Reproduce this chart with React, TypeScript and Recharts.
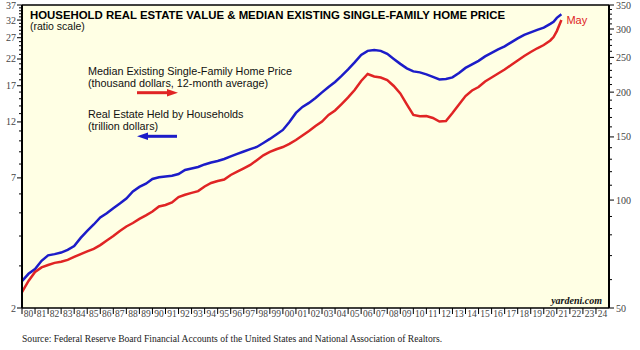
import React from 'react';
import { LineChart, Line, XAxis, YAxis, CartesianGrid, ReferenceLine, LabelList } from 'recharts';

// half-year readings (last point = Q1/May 2021)
const YEARS = [
  1980, 1980.5, 1981, 1981.5, 1982, 1982.5, 1983, 1983.5, 1984, 1984.5,
  1985, 1985.5, 1986, 1986.5, 1987, 1987.5, 1988, 1988.5, 1989, 1989.5,
  1990, 1990.5, 1991, 1991.5, 1992, 1992.5, 1993, 1993.5, 1994, 1994.5,
  1995, 1995.5, 1996, 1996.5, 1997, 1997.5, 1998, 1998.5, 1999, 1999.5,
  2000, 2000.5, 2001, 2001.5, 2002, 2002.5, 2003, 2003.5, 2004, 2004.5,
  2005, 2005.5, 2006, 2006.5, 2007, 2007.5, 2008, 2008.5, 2009, 2009.5,
  2010, 2010.5, 2011, 2011.5, 2012, 2012.5, 2013, 2013.5, 2014, 2014.5,
  2015, 2015.5, 2016, 2016.5, 2017, 2017.5, 2018, 2018.5, 2019, 2019.5,
  2020, 2020.5, 2020.75, 2021, 2021.35,
];

// Real Estate Held by Households (trillion dollars, left axis)
const HOUSEHOLD_RE = [
  2.59, 2.78, 2.91, 3.15, 3.32, 3.36, 3.41, 3.5, 3.63, 3.93,
  4.2, 4.47, 4.78, 4.98, 5.23, 5.47, 5.74, 6.14, 6.42, 6.62,
  6.93, 7.04, 7.1, 7.15, 7.27, 7.56, 7.67, 7.78, 7.97, 8.12,
  8.24, 8.4, 8.61, 8.82, 9.03, 9.23, 9.43, 9.8, 10.19, 10.64,
  11.11, 12.0, 13.09, 13.87, 14.41, 15.12, 15.95, 16.81, 17.64, 18.69,
  19.9, 21.29, 22.89, 23.79, 24.01, 23.79, 23.11, 22.02, 20.99, 20.1,
  19.52, 19.34, 18.97, 18.51, 18.07, 18.16, 18.43, 19.24, 20.19, 20.89,
  21.6, 22.56, 23.33, 24.13, 24.84, 25.82, 26.83, 27.75, 28.43, 29.12,
  29.77, 30.85, 31.5, 32.69, 33.81,
];

// Median Existing Single-Family Home Price (thousand dollars, right axis)
const HOME_PRICE = [
  55.4, 59.5, 63.0, 64.9, 65.9, 66.8, 67.3, 68.1, 69.4, 70.7,
  71.9, 73.1, 74.9, 77.1, 79.4, 82.0, 84.4, 86.3, 88.6, 90.6,
  92.9, 96.0, 96.9, 98.5, 102.0, 103.5, 104.7, 105.9, 109.1, 111.6,
  113.0, 114.1, 117.5, 120.0, 122.6, 125.3, 129.2, 133.3, 136.2, 138.6,
  140.6, 143.4, 147.1, 151.4, 155.8, 160.9, 165.6, 172.7, 177.8, 185.3,
  193.3, 202.8, 214.9, 224.7, 221.2, 219.7, 216.2, 208.1, 198.3, 184.8,
  172.7, 171.3, 171.6, 169.4, 165.6, 166.2, 174.9, 184.8, 195.1, 202.1,
  206.7, 214.2, 219.7, 225.4, 231.3, 238.1, 245.1, 252.2, 258.8, 265.1,
  270.7, 278.7, 285.0, 296.0, 318.0,
];

const LEFT_LABELS = [2, 7, 12, 17, 22, 27, 32, 37];
const RIGHT_LABELS = [50, 100, 150, 200, 250, 300, 350];
const LAST_LABEL = 'May';

const leftTicks: number[] = [];
for (let v = 2; v <= 37; v++) leftTicks.push(v);
const rightTicks: number[] = [];
for (let v = 50; v <= 350; v += 10) rightTicks.push(v);
const yearTicks: number[] = [];
for (let y = 1980; y <= 2024; y++) yearTicks.push(y);

const data = YEARS.map((year, i) => ({ year, household: HOUSEHOLD_RE[i], price: HOME_PRICE[i] }));

const W = 640;
const H = 350;
const LEFT_W = 22;
const RIGHT_W = 31;
const PLOT_W = W - LEFT_W - RIGHT_W;
const HALF_YEAR = PLOT_W / 45 / 2;

const BLUE = '#1c1cc8';
const RED = '#e02424';
const SERIF = '"Liberation Serif", "Times New Roman", serif';
const SANS = '"Liberation Sans", Arial, sans-serif';

const LeftTick = (props: any) => {
  const { x, y, payload } = props;
  const major = LEFT_LABELS.includes(payload.value);
  return (
    <g>
      <line x1={x - (major ? 5 : 3)} x2={x} y1={y} y2={y} stroke="#000" strokeWidth={1} />
      {major && (
        <text x={x - 6} y={y + 3.5} textAnchor="end" fontSize={10} fill="#444" style={{ fontFamily: SERIF }}>
          {payload.value}
        </text>
      )}
    </g>
  );
};

const RightTick = (props: any) => {
  const { x, y, payload } = props;
  const major = RIGHT_LABELS.includes(payload.value);
  return (
    <g>
      <line x1={x} x2={x + (major ? 5 : 3)} y1={y} y2={y} stroke="#000" strokeWidth={1} />
      {major && (
        <text x={x + 7} y={y + 3.5} textAnchor="start" fontSize={10} fill="#444" style={{ fontFamily: SERIF }}>
          {payload.value}
        </text>
      )}
    </g>
  );
};

const YearTick = (props: any) => {
  const { x, y, payload } = props;
  const label = String(payload.value % 100).padStart(2, '0');
  return (
    <g>
      <line x1={x} x2={x} y1={y} y2={y + 6} stroke="#000" strokeWidth={1} />
      <text x={x + HALF_YEAR} y={y + 9} textAnchor="middle" fontSize={9.5} fill="#444" style={{ fontFamily: SERIF }}>
        {label}
      </text>
    </g>
  );
};

const MayLabel = (props: any) => {
  const { x, y, index } = props;
  if (index !== data.length - 1) return null;
  return (
    <text x={x + 5} y={y + 4} fontSize={11} fill={RED} style={{ fontFamily: SANS }}>
      {LAST_LABEL}
    </text>
  );
};

export default function App() {
  return (
    <div style={{ position: 'relative', width: W, height: H, background: '#fff' }}>
      <style>{'body{margin:0}'}</style>
      <LineChart width={W} height={H} data={data} margin={{ top: 5, right: 0, bottom: 0, left: 0 }}>
        <CartesianGrid yAxisId="left" fill="#ffffe4" stroke="none" horizontal={false} vertical={false} />
        <XAxis
          dataKey="year"
          type="number"
          domain={[1980, 2025]}
          ticks={yearTicks}
          interval={0}
          height={42}
          tickSize={0}
          tickMargin={0}
          tick={<YearTick />}
          axisLine={{ stroke: '#000', strokeWidth: 1.5 }}
          tickLine={false}
        />
        <YAxis
          yAxisId="left"
          scale="log"
          domain={[2, 37]}
          allowDataOverflow
          ticks={leftTicks}
          interval={0}
          width={LEFT_W}
          tickSize={0}
          tickMargin={0}
          tick={<LeftTick />}
          tickLine={false}
          axisLine={{ stroke: '#000', strokeWidth: 2 }}
        />
        <YAxis
          yAxisId="right"
          orientation="right"
          scale="log"
          domain={[50, 350]}
          allowDataOverflow
          ticks={rightTicks}
          interval={0}
          width={RIGHT_W}
          tickSize={0}
          tickMargin={0}
          tick={<RightTick />}
          tickLine={false}
          axisLine={{ stroke: '#000', strokeWidth: 2 }}
        />
        <ReferenceLine yAxisId="left" y={37} stroke="#000" strokeWidth={1.5} />
        <Line
          yAxisId="left"
          dataKey="household"
          type="linear"
          stroke={BLUE}
          strokeWidth={2.5}
          dot={false}
          isAnimationActive={false}
        />
        <Line
          yAxisId="right"
          dataKey="price"
          type="linear"
          stroke={RED}
          strokeWidth={2.5}
          dot={false}
          isAnimationActive={false}
        >
          <LabelList dataKey="price" content={<MayLabel />} />
        </Line>
      </LineChart>
      <svg width={W} height={H} style={{ position: 'absolute', left: 0, top: 0, pointerEvents: 'none' }}>
        <text x={30} y={18.5} fontSize={11.4} fontWeight="bold" fontFamily={SANS} fill="#000">
          HOUSEHOLD REAL ESTATE VALUE &amp; MEDIAN EXISTING SINGLE-FAMILY HOME PRICE
        </text>
        <text x={30} y={29.5} fontSize={10.5} fontFamily={SANS} fill="#111">(ratio scale)</text>

        <text x={88} y={74.5} fontSize={10.8} fontFamily={SANS} fill="#111">Median Existing Single-Family Home Price</text>
        <text x={88} y={86.5} fontSize={10.8} fontFamily={SANS} fill="#111">(thousand dollars, 12-month average)</text>
        <line x1={137} x2={169} y1={92.7} y2={92.7} stroke={RED} strokeWidth={3} />
        <polygon points="167,89 178,92.7 167,96.4" fill={RED} />

        <text x={88} y={118} fontSize={10.8} fontFamily={SANS} fill="#111">Real Estate Held by Households</text>
        <text x={88} y={130} fontSize={10.8} fontFamily={SANS} fill="#111">(trillion dollars)</text>
        <line x1={146} x2={177} y1={136.3} y2={136.3} stroke={BLUE} strokeWidth={3} />
        <polygon points="148,132.6 137,136.3 148,140" fill={BLUE} />

        <text x={602} y={304} textAnchor="end" fontSize={10} fontWeight="bold" fontStyle="italic" fontFamily={SERIF} fill="#111">
          yardeni.com
        </text>
        <text x={22} y={342} fontSize={9.6} fontFamily={SERIF} fill="#222">
          Source: Federal Reserve Board Financial Accounts of the United States and National Association of Realtors.
        </text>
      </svg>
    </div>
  );
}
